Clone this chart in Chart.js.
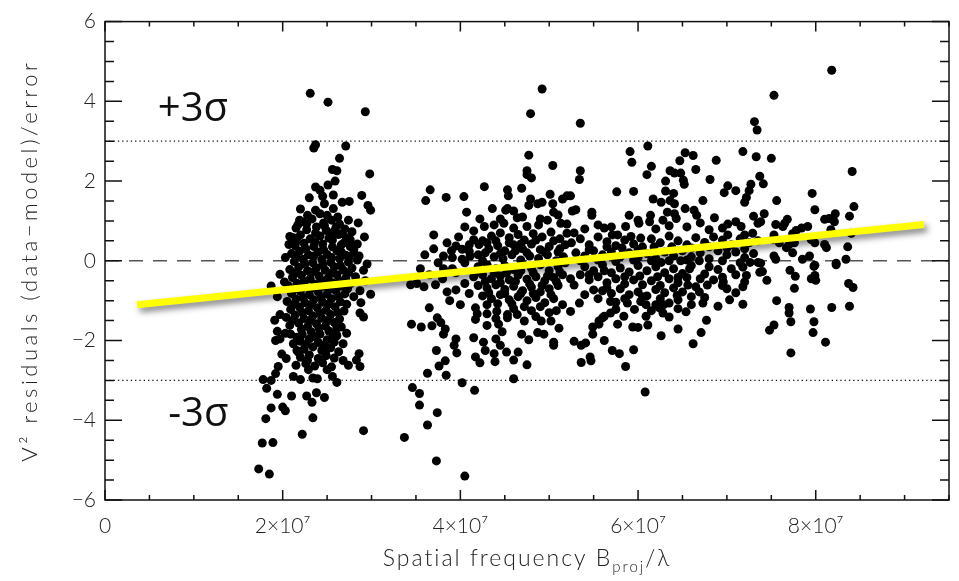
<!DOCTYPE html>
<html>
<head>
<meta charset="utf-8">
<script src="https://cdn.jsdelivr.net/npm/chart.js@4.4.1/dist/chart.umd.min.js"></script>
<style>
  body { margin: 0; background: #fff; }
  #resid { display: block; }
</style>
</head>
<body>
<canvas id="resid" width="959" height="581"></canvas>
<script>
// spatial frequency in units of 1e7, residual in sigma
const clusterShort = [
  [2.31,4.20],[2.51,3.98],[2.93,3.74],[2.35,2.83],[2.37,2.91],[2.71,2.88],[2.64,2.57],[2.56,2.29],[2.61,2.26],[2.98,2.18],
  [2.37,1.85],[2.42,1.77],[2.51,1.90],[2.59,2.00],[2.57,1.65],[2.89,1.64],[2.67,1.47],[2.75,1.49],[2.96,1.39],[2.99,1.27],
  [2.47,1.43],[2.37,1.27],[2.28,1.14],[2.42,1.18],[2.50,1.14],[2.19,1.02],[2.57,1.31],[2.08,0.61],[2.07,0.41],[2.03,0.08],
  [2.78,0.73],[2.76,0.53],[2.69,0.45],[2.80,0.29],[2.86,0.12],[2.95,-0.08],[2.91,-0.24],[1.97,-0.34],[1.87,-0.63],[1.94,-0.90],
  [2.02,-0.53],[2.99,-0.84],[2.87,-0.75],[2.87,-1.31],[2.91,-1.41],[2.72,-1.09],[2.72,-1.82],[2.61,-1.88],[1.91,-1.49],[1.97,-1.35],
  [1.94,-1.77],[1.92,-2.00],[1.97,-1.96],[1.99,-2.34],[2.09,-1.84],[2.12,-2.08],[2.16,-2.25],[2.86,-2.33],[2.83,-2.49],[2.87,-2.65],
  [1.95,-2.65],[1.92,-2.83],[1.78,-2.98],[1.82,-3.20],[1.87,-3.00],[1.94,-3.35],[2.10,-3.39],[1.87,-3.69],[2.00,-3.67],[2.03,-3.76],
  [1.81,-3.96],[2.34,-3.94],[2.22,-4.35],[2.91,-4.26],[1.77,-4.57],[1.89,-4.56],[1.73,-5.22],[1.85,-5.35],[2.33,-3.55],[2.27,-3.39],
  [2.47,-3.43],[2.38,-3.31],[2.61,-3.05],[2.56,-2.90],[2.50,-2.73],[2.39,-2.96],[2.34,-2.94],[2.29,-2.73],[2.20,-2.98],[2.12,-2.90],
  // dense core
  [2.22,0.98],[2.33,1.05],[2.46,0.95],[2.55,1.02],[2.64,0.92],[2.30,1.58],[2.45,1.62],[2.20,1.30],[2.62,1.10],[2.74,1.02],
  [2.85,0.95],[2.92,0.60],[2.93,-0.50],[2.88,-1.05],
  [2.15,0.82],[2.27,0.78],[2.38,0.85],[2.49,0.76],[2.60,0.84],[2.70,0.80],
  [2.12,0.58],[2.20,0.65],[2.31,0.55],[2.42,0.62],[2.52,0.57],[2.63,0.66],[2.72,0.58],
  [2.14,0.38],[2.24,0.44],[2.35,0.36],[2.45,0.42],[2.56,0.35],[2.66,0.40],[2.84,0.42],
  [2.10,0.18],[2.19,0.24],[2.29,0.15],[2.40,0.22],[2.50,0.16],[2.61,0.25],[2.71,0.14],[2.80,0.20],
  [2.13,-0.02],[2.23,0.04],[2.34,-0.05],[2.44,0.03],[2.54,-0.04],[2.64,0.05],[2.74,-0.03],[2.84,0.02],
  [2.08,-0.22],[2.18,-0.16],[2.28,-0.25],[2.38,-0.18],[2.48,-0.24],[2.58,-0.15],[2.68,-0.23],[2.78,-0.18],
  [2.11,-0.42],[2.21,-0.36],[2.31,-0.45],[2.41,-0.38],[2.51,-0.44],[2.61,-0.35],[2.71,-0.43],[2.82,-0.40],
  [2.06,-0.62],[2.16,-0.56],[2.26,-0.65],[2.36,-0.58],[2.46,-0.64],[2.56,-0.55],[2.66,-0.63],[2.76,-0.58],
  [2.10,-0.82],[2.20,-0.76],[2.30,-0.85],[2.40,-0.78],[2.50,-0.84],[2.60,-0.75],[2.70,-0.83],[2.80,-0.90],
  [2.05,-1.02],[2.15,-0.96],[2.25,-1.05],[2.35,-0.98],[2.45,-1.04],[2.55,-0.95],[2.65,-1.03],
  [2.09,-1.22],[2.19,-1.16],[2.29,-1.25],[2.39,-1.18],[2.49,-1.24],[2.59,-1.15],[2.69,-1.26],
  [2.04,-1.42],[2.14,-1.36],[2.24,-1.45],[2.34,-1.38],[2.44,-1.44],[2.54,-1.35],[2.64,-1.46],
  [2.08,-1.62],[2.18,-1.56],[2.28,-1.65],[2.38,-1.58],[2.48,-1.64],[2.58,-1.55],[2.66,-1.66],
  [2.03,-1.82],[2.22,-1.85],[2.32,-1.78],[2.42,-1.84],[2.52,-1.76],[2.60,-1.83],
  [2.20,-2.02],[2.30,-1.96],[2.40,-2.05],[2.50,-1.98],[2.58,-2.04],[2.68,-2.08],
  [2.24,-2.22],[2.34,-2.16],[2.44,-2.25],[2.54,-2.18],[2.63,-2.28],
  [2.04,-2.45],[2.20,-2.42],[2.30,-2.36],[2.40,-2.45],[2.49,-2.38],[2.58,-2.44],[2.68,-2.50],
  [2.15,-2.62],[2.26,-2.58],[2.36,-2.64],[2.45,-2.56],[2.55,-2.66],[2.74,-2.62],
  [2.17,0.90],[2.27,0.93],[2.37,0.70],[2.47,0.88],[2.57,0.72],[2.67,0.68],
  [2.16,0.50],[2.26,0.30],[2.36,0.48],[2.46,0.28],[2.56,0.52],[2.66,0.22],[2.76,0.36],
  [2.15,0.10],[2.25,-0.08],[2.35,0.12],[2.45,-0.10],[2.55,0.08],[2.65,-0.12],[2.75,0.10],
  [2.14,-0.30],[2.24,-0.52],[2.34,-0.28],[2.44,-0.50],[2.54,-0.32],[2.64,-0.50],[2.74,-0.30],
  [2.13,-0.70],[2.23,-0.92],[2.33,-0.68],[2.43,-0.92],[2.53,-0.70],[2.63,-0.90],[2.73,-0.70],
  [2.12,-1.10],[2.22,-1.30],[2.32,-1.10],[2.42,-1.32],[2.52,-1.08],[2.62,-1.30],
  [2.11,-1.50],[2.21,-1.72],[2.31,-1.50],[2.41,-1.70],[2.51,-1.50],[2.61,-1.68],
  [2.16,-1.92],[2.26,-2.10],[2.36,-1.90],[2.46,-2.12],[2.56,-1.92],
  [2.28,-2.50],[2.48,-2.30],[2.18,-2.30]
];

const clusterLong = [
  // 3.3e7 - 5.2e7, upper half
  [4.92,4.31],[4.79,3.69],[4.77,2.65],[5.04,2.39],[4.75,2.26],[4.75,2.16],[4.80,2.08],[3.66,1.78],[3.61,1.51],[3.84,1.59],
  [4.04,1.61],[4.07,1.22],[4.27,1.86],[4.53,1.78],[4.54,1.63],[4.69,1.82],[5.01,1.67],[4.79,1.55],[4.77,1.39],[4.87,1.43],
  [4.92,1.47],[5.04,1.43],[5.05,1.22],[5.15,1.55],[5.20,1.63],[4.36,1.31],[4.51,1.27],[4.53,1.31],[3.70,0.65],[4.64,1.08],
  [4.70,1.10],[4.27,0.86],[4.38,0.90],[4.49,0.94],[4.60,0.82],[4.75,0.86],[4.88,0.90],[4.98,1.02],[5.13,0.94],[5.20,0.69],
  [3.95,0.37],[4.02,0.29],[4.10,0.24],[4.15,0.53],[4.21,0.41],[4.30,0.45],[3.81,0.12],[3.91,0.08],[4.02,0.04],[4.11,0.12],
  [4.35,0.62],[4.45,0.70],[4.55,0.58],[4.65,0.66],[4.72,0.52],[4.82,0.68],[4.92,0.60],[5.02,0.72],[5.12,0.55],
  [4.32,0.30],[4.42,0.38],[4.50,0.25],[4.60,0.40],[4.70,0.30],[4.80,0.42],[4.90,0.28],[5.00,0.36],[5.10,0.22],[5.18,0.40],
  [4.38,0.10],[4.48,0.05],[4.58,0.15],[4.68,0.02],[4.78,0.12],[4.88,0.06],[4.98,0.15],[5.08,0.00],[5.16,0.10],[4.20,0.15],
  [4.25,0.00],[3.60,0.15],[3.70,0.30],[3.85,0.45],[3.90,0.25],[3.75,-0.05],[3.55,-0.20],[4.10,0.40],[3.98,0.60],[4.15,0.75],
  [4.05,0.85],[4.22,1.05],[4.45,1.05],[4.60,1.25],[4.90,1.05],[5.10,1.15],
  [4.25,0.50],[4.40,0.50],[4.55,0.45],[4.68,0.42],[4.85,0.52],[5.05,0.50],
  [4.28,0.20],[4.45,0.18],[4.62,0.25],[4.75,0.20],[4.95,0.22],[5.12,0.30],
  // 3.3e7 - 5.2e7, lower half
  [3.44,-0.60],[3.51,-0.57],[3.59,-0.65],[3.72,-0.60],[3.65,-1.18],[3.45,-1.59],[3.56,-1.66],[3.68,-1.63],[3.74,-1.43],[3.78,-1.55],
  [3.83,-1.71],[3.81,-1.84],[3.73,-2.25],[3.95,-1.96],[3.93,-2.12],[3.96,-2.31],[3.83,-2.51],[3.76,-2.64],[3.63,-2.82],[3.84,-2.87],
  [3.46,-3.18],[3.54,-3.33],[3.54,-3.62],[3.74,-3.81],[3.63,-4.12],[3.37,-4.43],[3.73,-5.02],[4.05,-5.40],[4.02,-3.06],[4.16,-3.25],
  [4.60,-2.96],[4.17,-2.41],[4.22,-2.56],[4.39,-2.53],[4.60,-2.49],[4.75,-2.61],[4.15,-1.93],[4.26,-2.04],[4.28,-2.25],[4.38,-2.33],
  [4.52,-2.29],[4.65,-2.29],[4.40,-1.96],[4.45,-2.12],[4.47,-1.78],[4.69,-1.84],[4.77,-1.98],[4.87,-1.80],[4.94,-1.84],[5.05,-2.04],
  [5.05,-2.12],[5.11,-1.69],[5.02,-1.51],[4.91,-1.51],[4.30,-1.62],[4.17,-1.47],[4.43,-1.59],[4.53,-1.43],[4.72,-1.51],
  [3.85,-0.78],[3.95,-0.73],[4.00,-1.10],[4.10,-0.82],[3.88,-1.00],[4.17,-1.18],[4.30,-1.10],[4.19,-1.33],[4.30,-1.33],[4.41,-1.27],
  [4.53,-1.35],[4.64,-1.35],[3.81,-0.20],[3.91,-0.20],[4.05,-0.57],[3.65,-0.35],[3.80,-0.45],[3.95,-0.30],[4.05,-0.05],
  [4.20,-0.15],[4.30,-0.10],[4.40,-0.20],[4.50,-0.12],[4.60,-0.22],[4.70,-0.08],[4.80,-0.18],[4.90,-0.10],[5.00,-0.25],[5.10,-0.15],[5.18,-0.05],
  [4.15,-0.40],[4.25,-0.35],[4.35,-0.45],[4.45,-0.38],[4.55,-0.48],[4.65,-0.36],[4.75,-0.46],[4.85,-0.40],[4.95,-0.50],[5.05,-0.42],[5.15,-0.35],
  [4.20,-0.62],[4.30,-0.68],[4.40,-0.60],[4.50,-0.72],[4.60,-0.64],[4.70,-0.75],[4.80,-0.66],[4.90,-0.78],[5.00,-0.70],[5.10,-0.62],
  [4.25,-0.88],[4.35,-0.95],[4.45,-0.85],[4.55,-0.98],[4.65,-0.90],[4.75,-1.00],[4.85,-0.92],[4.95,-1.05],[5.05,-0.95],[5.15,-1.10],
  [4.60,-1.20],[4.80,-1.25],[4.90,-1.15],[5.00,-1.30],[4.40,-1.45],[4.85,-1.40],
  [4.22,-0.28],[4.38,-0.30],[4.52,-0.30],[4.68,-0.25],[4.82,-0.30],[4.98,-0.38],[5.12,-0.28],
  [4.28,-0.52],[4.45,-0.55],[4.62,-0.52],[4.78,-0.58],[4.92,-0.62],[5.08,-0.52],
  [4.32,-0.80],[4.50,-0.82],[4.68,-0.82],[4.82,-0.82],[5.02,-0.85],
  [4.42,-1.08],[4.58,-1.08],[4.72,-1.15],[5.08,-1.25],
  // 5.2e7 - 7.4e7, upper half
  [5.35,3.45],[6.11,2.88],[5.91,2.74],[5.93,2.47],[5.35,2.26],[5.34,2.04],[6.15,2.37],[6.10,2.16],[6.53,2.71],[6.62,2.64],
  [6.47,2.51],[6.65,2.29],[6.36,2.26],[6.41,2.20],[6.48,2.20],[6.88,2.52],[7.18,2.74],[7.31,3.49],[7.34,3.28],[7.33,2.61],
  [7.37,2.12],[6.51,2.02],[6.52,1.92],[6.31,2.00],[6.31,1.75],[6.40,1.69],[6.81,2.04],[7.01,1.88],[6.97,1.71],[7.10,1.76],
  [7.27,1.92],[7.25,1.76],[7.22,1.59],[7.20,1.47],[5.76,1.73],[5.95,1.74],[5.24,1.63],[5.30,1.28],[5.26,1.25],[5.48,1.22],
  [5.48,1.14],[6.17,1.55],[6.26,1.47],[6.36,1.51],[6.41,1.43],[6.53,1.31],[6.63,1.27],[6.66,1.14],[6.73,1.51],
  [6.33,1.22],[6.41,1.18],[6.43,1.06],[6.28,1.02],[6.14,1.14],[6.13,0.98],[6.00,1.02],[6.01,0.94],[5.90,1.14],[5.86,0.86],
  [5.62,0.82],[5.71,0.65],[5.77,0.65],[5.92,0.61],[6.03,0.57],[6.86,1.08],[7.01,0.92],[7.10,0.98],[7.16,0.86],[7.20,0.65],
  [7.30,1.12],[7.35,0.94],[7.29,0.69],[7.01,0.65],
  [5.25,0.45],[5.35,0.55],[5.45,0.40],[5.55,0.60],[5.65,0.48],[5.75,0.38],[5.85,0.52],[5.95,0.42],[6.05,0.35],[6.15,0.55],
  [6.25,0.45],[6.35,0.62],[6.45,0.50],[6.55,0.40],[6.65,0.58],[6.75,0.46],[6.85,0.60],[6.95,0.52],[7.05,0.40],[7.15,0.55],
  [7.25,0.45],[7.35,0.50],[5.30,0.20],[5.40,0.12],[5.50,0.25],[5.60,0.15],[5.70,0.22],[5.80,0.10],[5.90,0.20],[6.00,0.08],
  [6.10,0.18],[6.20,0.05],[6.30,0.22],[6.40,0.12],[6.50,0.25],[6.60,0.10],[6.70,0.20],[6.80,0.05],[6.90,0.25],[7.00,0.15],
  [7.10,0.22],[7.20,0.08],[7.30,0.18],[5.40,0.80],[5.55,0.90],[5.70,0.85],[6.20,0.80],[6.35,0.88],[6.55,0.85],[6.70,0.95],
  [6.80,0.78],[6.95,0.82],[5.28,0.70],[5.20,0.92],
  [5.45,0.28],[5.65,0.35],[5.82,0.32],[6.00,0.28],[6.18,0.35],[6.38,0.35],[6.60,0.32],[6.80,0.35],[7.00,0.32],[7.20,0.30],
  // 5.2e7 - 7.4e7, lower half
  [5.24,-0.45],[5.28,-0.61],[5.34,-1.06],[5.24,-1.27],[5.50,-0.73],[5.28,-2.02],[5.36,-2.12],[5.41,-2.06],[5.36,-2.55],[5.47,-2.51],
  [5.46,-2.41],[5.49,-1.84],[5.49,-1.66],[5.56,-1.59],[5.60,-1.43],[5.62,-2.00],[5.71,-2.25],[5.79,-2.33],[5.95,-2.23],[5.86,-2.65],
  [6.08,-3.29],[6.26,-1.88],[6.45,-1.71],[6.71,-1.80],[6.62,-2.08],[6.77,-1.49],[6.54,-1.28],[6.35,-1.41],[6.11,-1.61],[5.94,-1.66],
  [6.00,-1.67],[5.77,-1.59],[5.84,-1.39],[5.69,-1.31],[6.90,-1.14],[7.03,-0.98],[7.18,-1.09],[6.73,-1.06],[6.60,-1.10],[6.44,-0.87],
  [6.95,-0.41],[6.96,-0.53],[7.18,-0.65],[7.20,-0.53],[7.22,-0.37],[7.18,-0.16],[7.26,-0.04],[7.35,-0.04],[7.37,-0.29],
  [5.69,-1.02],[5.75,-1.04],[5.88,-1.06],[5.96,-1.22],[6.03,-1.02],[6.09,-1.10],[6.20,-1.10],[6.24,-1.18],[6.29,-1.10],[6.35,-1.06],
  [6.28,-1.31],[6.09,-1.39],[5.62,-1.39],[5.56,-1.51],[6.78,-0.61],[6.69,-0.78],[6.65,-0.65],[6.56,-0.61],[6.75,-0.33],[6.58,-0.20],
  [6.69,0.00],[6.26,-0.04],[6.35,0.00],[6.48,0.00],
  [5.40,-0.15],[5.50,-0.25],[5.60,-0.10],[5.70,-0.30],[5.80,-0.18],[5.90,-0.28],[6.00,-0.12],[6.10,-0.25],[6.20,-0.15],[6.30,-0.30],
  [6.40,-0.20],[6.50,-0.32],[6.60,-0.12],[6.80,-0.15],[6.90,-0.22],[7.05,-0.20],[7.10,-0.35],
  [5.35,-0.35],[5.45,-0.48],[5.55,-0.40],[5.65,-0.55],[5.75,-0.45],[5.85,-0.58],[5.95,-0.48],[6.05,-0.60],[6.15,-0.50],[6.25,-0.62],
  [6.35,-0.45],[6.45,-0.55],[6.55,-0.42],[6.85,-0.48],[7.00,-0.70],[7.10,-0.80],
  [5.60,-0.75],[5.70,-0.82],[5.80,-0.70],[5.90,-0.85],[6.00,-0.78],[6.10,-0.88],[6.20,-0.72],[6.30,-0.80],[6.50,-0.78],[6.60,-0.90],
  [6.40,-0.68],[5.40,-0.85],[5.55,-0.95],
  [5.35,0.00],[5.55,0.02],[5.75,-0.02],[5.95,0.02],[6.15,0.00],[6.55,0.02],[6.95,0.00],[7.15,-0.05],
  [5.45,-0.35],[5.62,-0.25],[5.85,-0.40],[6.02,-0.38],[6.22,-0.40],[6.45,-0.42],[6.70,-0.45],[6.95,-0.62],
  [5.65,-0.68],[5.85,-0.95],[6.05,-0.90],[6.25,-0.95],[6.45,-0.98],[6.75,-0.92],
  [5.75,-1.22],[6.15,-1.25],[6.45,-1.20],
  // 7.4e7 - 8.5e7
  [8.18,4.78],[7.53,4.15],[7.50,2.57],[8.41,2.24],[7.41,1.93],[7.96,1.69],[7.56,1.51],[7.99,1.28],[8.43,1.36],[8.38,1.12],
  [7.42,1.18],[7.38,0.98],[7.55,0.91],[7.65,0.94],[7.68,1.04],[7.63,0.86],[7.91,0.86],[7.84,0.82],[7.78,0.76],[7.74,0.68],
  [8.10,1.04],[8.15,1.06],[8.22,1.18],[8.21,0.98],[8.17,0.78],[7.53,0.65],[7.52,0.53],[7.95,0.53],[7.99,0.45],[8.10,0.41],
  [8.12,0.33],[7.76,0.45],[7.70,0.41],[7.67,0.33],[7.59,0.45],[8.40,0.69],[8.36,0.35],[8.34,0.04],[8.23,-0.06],[7.99,-0.11],
  [7.85,0.04],[7.93,0.12],[7.55,0.04],[7.53,0.12],[7.74,0.20],
  [7.98,-0.14],[8.23,-0.10],[7.38,-0.06],[7.40,-0.27],[7.45,-0.49],[7.71,-0.24],[7.77,-0.39],[7.76,-0.69],[7.95,-0.45],[7.99,-0.37],
  [8.00,-0.49],[8.37,-0.57],[8.42,-0.67],[7.56,-1.00],[7.70,-1.17],[7.70,-1.31],[7.94,-1.21],[8.18,-1.17],[8.38,-1.14],[7.48,-1.74],
  [7.53,-1.61],[7.72,-1.53],[7.98,-1.53],[7.97,-1.80],[8.11,-2.04],[7.72,-2.31]
];

// linear fit through the residuals
const fitFreq = [0.36, 9.22];
const fitResid = [-1.10, 0.91];

const xTickValues = [0, 2, 4, 6, 8];
const xTickLabels = ['0', '2×10⁷', '4×10⁷', '6×10⁷', '8×10⁷'];
const yTickValues = [-6, -4, -2, 0, 2, 4, 6];
const yTickLabels = ['−6', '−4', '−2', '0', '2', '4', '6'];

const X_MAX = 9.5;
const tickFont = { family: 'Lato', size: 21, weight: '300' };

function hline(yv) {
  return [{ x: 0, y: yv }, { x: X_MAX, y: yv }];
}

const fitShadow = {
  id: 'fitShadow',
  beforeDatasetDraw(chart, args) {
    if (args.index !== 0) return;
    const ctx = chart.ctx;
    ctx.save();
    ctx.shadowColor = 'rgba(0,0,0,0.5)';
    ctx.shadowBlur = 6;
    ctx.shadowOffsetX = 3;
    ctx.shadowOffsetY = 4;
  },
  afterDatasetDraw(chart, args) {
    if (args.index !== 0) return;
    chart.ctx.restore();
  }
};

const frame = {
  id: 'frame',
  afterDraw(chart) {
    const { ctx, chartArea: a, scales: { x, y } } = chart;
    ctx.save();
    ctx.strokeStyle = '#111';
    ctx.lineWidth = 1.5;
    ctx.strokeRect(a.left, a.top, a.right - a.left, a.bottom - a.top);
    ctx.beginPath();
    for (let v = 0; v <= X_MAX + 0.01; v += 0.5) {
      const px = x.getPixelForValue(v);
      const len = (v % 2 === 0) ? 10 : 5;
      ctx.moveTo(px, a.bottom); ctx.lineTo(px, a.bottom - len);
      ctx.moveTo(px, a.top); ctx.lineTo(px, a.top + len);
    }
    for (let v = -6; v <= 6; v += 0.5) {
      const py = y.getPixelForValue(v);
      const len = (v % 2 === 0) ? 17 : 9;
      ctx.moveTo(a.left, py); ctx.lineTo(a.left + len, py);
      ctx.moveTo(a.right, py); ctx.lineTo(a.right - len, py);
    }
    ctx.stroke();

    // axis titles
    ctx.fillStyle = '#222';
    ctx.textBaseline = 'alphabetic';
    ctx.letterSpacing = '2px';
    const main = 'Spatial frequency B', tail = '/λ';
    ctx.font = '300 23px Lato';
    const w1 = ctx.measureText(main).width;
    const w3 = ctx.measureText(tail).width;
    ctx.font = '300 15px Lato';
    const w2 = ctx.measureText('proj').width;
    const sx = (a.left + a.right) / 2 - (w1 + w2 + w3) / 2;
    const base = 566;
    ctx.textAlign = 'left';
    ctx.font = '300 23px Lato';
    ctx.fillText(main, sx, base);
    ctx.font = '300 15px Lato';
    ctx.fillText('proj', sx + w1, base + 6);
    ctx.font = '300 23px Lato';
    ctx.fillText(tail, sx + w1 + w2, base);

    ctx.save();
    ctx.translate(37, (a.top + a.bottom) / 2);
    ctx.rotate(-Math.PI / 2);
    ctx.textAlign = 'center';
    ctx.font = '300 22px Lato';
    ctx.letterSpacing = '3.5px';
    ctx.fillText('V² residuals (data−model)/error', 0, 0);
    ctx.restore();

    // sigma labels
    ctx.letterSpacing = '0px';
    ctx.fillStyle = '#111';
    ctx.font = '40px "Open Sans"';
    ctx.textAlign = 'center';
    ctx.textBaseline = 'middle';
    ctx.fillText('+3σ', x.getPixelForValue(0.99), y.getPixelForValue(3.8));
    ctx.fillText('-3σ', x.getPixelForValue(1.05), y.getPixelForValue(-3.85));
    ctx.restore();
  }
};

document.addEventListener('DOMContentLoaded', function () {
  const points = clusterShort.concat(clusterLong).map(p => ({ x: p[0], y: p[1] }));
  const fit = fitFreq.map((f, i) => ({ x: f, y: fitResid[i] }));

  new Chart(document.getElementById('resid').getContext('2d'), {
    type: 'scatter',
    data: {
      datasets: [
        {
          type: 'line', data: fit, order: 0,
          borderColor: '#ffff00', borderWidth: 7, pointRadius: 0, borderCapStyle: 'butt'
        },
        {
          data: points, order: 1,
          backgroundColor: '#000', borderWidth: 0, pointRadius: 4.5
        },
        {
          type: 'line', data: hline(0), order: 2,
          borderColor: '#555', borderWidth: 1.5, borderDash: [14, 10], pointRadius: 0
        },
        {
          type: 'line', data: hline(3), order: 2,
          borderColor: '#111', borderWidth: 1.2, borderDash: [1.3, 3], pointRadius: 0
        },
        {
          type: 'line', data: hline(-3), order: 2,
          borderColor: '#111', borderWidth: 1.2, borderDash: [1.3, 3], pointRadius: 0
        }
      ]
    },
    options: {
      responsive: false,
      animation: false,
      layout: { padding: { top: 10, right: 10, left: 0, bottom: 0 } },
      plugins: { legend: { display: false }, tooltip: { enabled: false } },
      scales: {
        x: {
          type: 'linear', min: 0, max: X_MAX,
          grid: { display: false, drawTicks: false },
          border: { display: false },
          afterBuildTicks: s => { s.ticks = xTickValues.map(v => ({ value: v })); },
          afterFit: s => { s.height = 81; },
          ticks: {
            padding: 14, color: '#222', font: tickFont, maxRotation: 0,
            callback: v => xTickLabels[xTickValues.indexOf(v)]
          }
        },
        y: {
          type: 'linear', min: -6, max: 6,
          grid: { display: false, drawTicks: false },
          border: { display: false },
          afterBuildTicks: s => { s.ticks = yTickValues.map(v => ({ value: v })); },
          afterFit: s => { s.width = 105; },
          ticks: {
            padding: 9, color: '#222', font: tickFont,
            callback: v => yTickLabels[yTickValues.indexOf(v)]
          }
        }
      }
    },
    plugins: [fitShadow, frame]
  });
});
</script>
</body>
</html>
